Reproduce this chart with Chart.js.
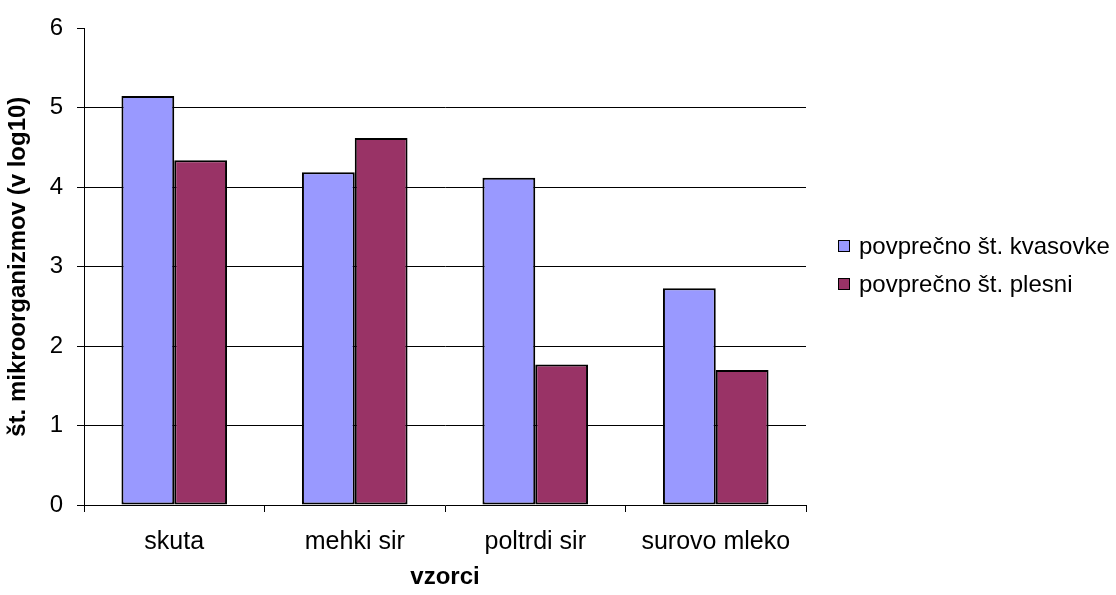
<!DOCTYPE html>
<html>
<head>
<meta charset="utf-8">
<script src="https://cdn.jsdelivr.net/npm/chart.js@4.4.1/dist/chart.umd.min.js"></script>
<style>
  html, body { margin: 0; padding: 0; background: #ffffff; }
  #wrap { width: 1116px; height: 595px; }
</style>
</head>
<body>
<div id="wrap"><canvas id="c" width="1116" height="595"></canvas></div>
<script>
// Samples and their average counts (log10)
const categories = ['skuta', 'mehki sir', 'poltrdi sir', 'surovo mleko'];
const kvasovke = [5.15, 4.19, 4.12, 2.73];
const plesni = [4.34, 4.62, 1.77, 1.70];
const seriesNames = ['povprečno št. kvasovke', 'povprečno št. plesni'];
const seriesColors = ['#9999FF', '#993366'];
const yTicks = [0, 1, 2, 3, 4, 5, 6];

const FONT = '"Liberation Sans", Arial, sans-serif';

// Legend drawn on the right, next to the plot
const sideLegend = {
  id: 'sideLegend',
  afterDraw(chart) {
    const ctx = chart.ctx;
    const x0 = 838, y0 = 246, rowGap = 38, box = 12;
    ctx.save();
    ctx.font = '24px ' + FONT;
    ctx.textBaseline = 'middle';
    ctx.textAlign = 'left';
    chart.data.datasets.forEach((ds, i) => {
      const cy = y0 + i * rowGap;
      ctx.fillStyle = ds.backgroundColor;
      ctx.fillRect(x0, cy - box / 2, box, box);
      ctx.strokeStyle = '#000';
      ctx.lineWidth = 1;
      ctx.strokeRect(x0 + 0.5, cy - box / 2 + 0.5, box - 1, box - 1);
      ctx.fillStyle = '#000';
      ctx.fillText(ds.label, x0 + 21, cy + 1);
    });
    ctx.restore();
  }
};

new Chart(document.getElementById('c'), {
  type: 'bar',
  data: {
    labels: categories,
    datasets: [
      { label: seriesNames[0], data: kvasovke, backgroundColor: seriesColors[0] },
      { label: seriesNames[1], data: plesni, backgroundColor: seriesColors[1] }
    ].map(d => Object.assign(d, {
      borderColor: '#000',
      borderWidth: 2,
      borderSkipped: false,
      categoryPercentage: 0.585,
      barPercentage: 1
    }))
  },
  options: {
    responsive: false,
    animation: false,
    events: [],
    layout: { padding: { top: 27, right: 310, left: 0, bottom: 0 } },
    plugins: {
      legend: { display: false },
      tooltip: { enabled: false }
    },
    scales: {
      x: {
        afterFit(scale) { scale.height = 90; },
        grid: {
          offset: true,
          drawOnChartArea: false,
          color: '#000',
          tickLength: 7,
          lineWidth: 1
        },
        border: { color: '#000', width: 1 },
        ticks: {
          color: '#000',
          font: { family: FONT, size: 25 },
          padding: 15,
          maxRotation: 0
        },
        title: {
          display: true,
          text: 'vzorci',
          color: '#000',
          font: { family: FONT, size: 24, weight: 'bold' },
          padding: { top: 0, bottom: 3 }
        }
      },
      y: {
        min: 0,
        max: 6,
        afterFit(scale) { scale.width = 84; },
        afterBuildTicks(scale) { scale.ticks = yTicks.map(v => ({ value: v })); },
        grid: {
          color: ctx => (ctx.tick && (ctx.tick.value === 6 || ctx.tick.value === 0)) ? 'rgba(0,0,0,0)' : '#000',
          tickColor: '#000',
          tickLength: 7,
          lineWidth: 1
        },
        border: { color: '#000', width: 1 },
        ticks: {
          color: '#000',
          font: { family: FONT, size: 24 },
          padding: 14
        },
        title: {
          display: true,
          text: 'št. mikroorganizmov (v log10)',
          color: '#000',
          font: { family: FONT, size: 24, weight: 'bold' },
          padding: { top: 4, bottom: 0 }
        }
      }
    }
  },
  plugins: [sideLegend]
});
</script>
</body>
</html>
